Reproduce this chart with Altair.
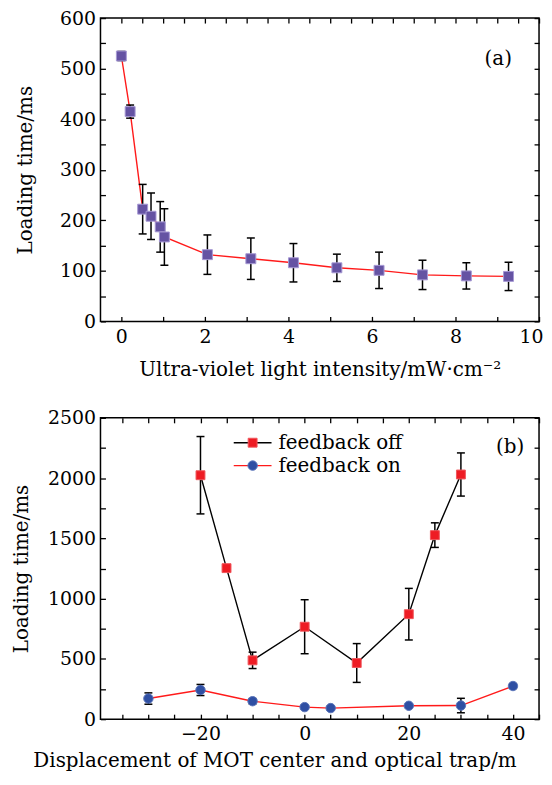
import altair as alt
import pandas as pd

# ---------------- data: panel (a) ----------------
uv_intensity = [0.0, 0.21, 0.51, 0.71, 0.93, 1.03, 2.06, 3.1, 4.12, 5.16, 6.17, 7.21, 8.26, 9.27]
uv_loading = [525, 415, 222, 208, 187, 167, 132, 124, 116, 106, 101, 92, 90, 89]
uv_error = [9, 13, 49, 46, 50, 56, 39, 41, 38, 27, 36, 29, 26, 28]

# ---------------- data: panel (b) ----------------
series_names = ["feedback off", "feedback on"]
disp_off = [-20, -15, -10, 0, 10, 20, 25, 30]
load_off = [2024, 1253, 488, 767, 466, 871, 1527, 2030]
err_off = [321, 12, 68, 224, 161, 214, 102, 179]
disp_on = [-30, -20, -10, 0, 5, 20, 30, 40]
load_on = [171, 242, 149, 100, 92, 111, 113, 275]
err_on = [47, 46, 22, 15, 15, 15, 60, 20]

# tick values
a_x_ticks = [i * 0.5 for i in range(0, 21)]
a_y_ticks = list(range(0, 601, 50))
b_x_ticks = list(range(-35, 46, 5))
b_y_ticks = list(range(0, 2501, 250))

FONT = "DejaVu Serif"
LFS = 19   # tick labels
TFS = 20   # titles / texts
TICK = 5


def make_df(x, y, e):
    return pd.DataFrame({"x": x, "y": y,
                         "lo": [a - b for a, b in zip(y, e)],
                         "hi": [a + b for a, b in zip(y, e)]})


def main_axis(orient, values, step, title, title_pad, label_pad, **kw):
    opts = dict(orient=orient, values=values, format="d",
                labelExpr=f"datum.value % {step} == 0 ? datum.label : ''",
                labelOverlap=False, domain=False, grid=False, ticks=True,
                tickSize=TICK, offset=-TICK, labelPadding=label_pad, title=title,
                titlePadding=title_pad, minExtent=0)
    opts.update(kw)
    if "labelFlush" not in opts:
        opts["labelFlush"] = False
    return alt.Axis(**opts)


def mirror_axis(orient, values):
    return alt.Axis(orient=orient, values=values, labels=False, domain=False,
                    grid=False, ticks=True, tickSize=TICK, offset=-TICK,
                    title=None, minExtent=0, maxExtent=0)


def panel(df_list, xs, ys, x_axis, y_axis, x_ticks, y_ticks, styles, extra,
          width, height):
    layers = []
    first = True
    for df, st in zip(df_list, styles):
        base = alt.Chart(df)
        if first:
            lx = alt.X("x:Q", scale=xs, axis=mirror_axis("top", x_ticks))
            ly = alt.Y("y:Q", scale=ys, axis=mirror_axis("right", y_ticks))
        else:
            lx = alt.X("x:Q", scale=xs, axis=None)
            ly = alt.Y("y:Q", scale=ys, axis=None)
        line = base.mark_line(color=st["line"], strokeWidth=1.4).encode(x=lx, y=ly)
        rule = base.mark_rule(color="black", strokeWidth=1.5).encode(
            x=alt.X("x:Q", scale=xs, axis=None),
            y=alt.Y("lo:Q", scale=ys, axis=None), y2="hi:Q")
        cap_lo = base.mark_tick(orient="horizontal", size=8, thickness=1.5,
                                color="black", opacity=1).encode(
            x=alt.X("x:Q", scale=xs, axis=None),
            y=alt.Y("lo:Q", scale=ys, axis=None))
        cap_hi = base.mark_tick(orient="horizontal", size=8, thickness=1.5,
                                color="black", opacity=1).encode(
            x=alt.X("x:Q", scale=xs, axis=None),
            y=alt.Y("hi:Q", scale=ys, axis=None))
        if first:
            px = alt.X("x:Q", scale=xs, axis=x_axis)
            py = alt.Y("y:Q", scale=ys, axis=y_axis)
        else:
            px = alt.X("x:Q", scale=xs, axis=None)
            py = alt.Y("y:Q", scale=ys, axis=None)
        pts = base.mark_point(shape=st["shape"], filled=True, size=st["size"],
                              fill=st["fill"], stroke=st["stroke"],
                              strokeWidth=1, opacity=1).encode(x=px, y=py)
        layers += [line, rule, cap_lo, cap_hi, pts]
        first = False
    return alt.layer(*layers, *extra).resolve_axis(
        x="independent", y="independent").properties(width=width, height=height)


# ---------------- panel (a) ----------------
df_a = make_df(uv_intensity, uv_loading, uv_error)
xs_a = alt.Scale(domain=[-0.5, 10], nice=False, zero=False)
ys_a = alt.Scale(domain=[0, 600], nice=False, zero=False)
tag_a = alt.Chart(pd.DataFrame({"tag": ["(a)"]})).mark_text(
    font=FONT, fontSize=TFS, color="black", align="center", baseline="middle"
).encode(text="tag:N", x=alt.value(400), y=alt.value(41))

x_axis_a = main_axis("bottom", a_x_ticks, 2, "Ultra-violet light intensity/mW·cm⁻²", 13, 6,
                     labelFlush=1, labelFlushOffset=4)
y_axis_a = main_axis("left", a_y_ticks, 100, "Loading time/ms", 24, 5)

panel_a = panel([df_a], xs_a, ys_a, x_axis_a, y_axis_a, a_x_ticks, a_y_ticks,
                [{"line": "#ff1a1a", "shape": "square", "size": 100,
                  "fill": "#6553a3", "stroke": "#a598d4"}],
                [tag_a], 441, 305)

# ---------------- panel (b) ----------------
df_off = make_df(disp_off, load_off, err_off)
df_on = make_df(disp_on, load_on, err_on)
xs_b = alt.Scale(domain=[-39.2, 45], nice=False, zero=False)
ys_b = alt.Scale(domain=[0, 2500], nice=False, zero=False)

styles_b = [
    {"line": "black", "shape": "square", "size": 80, "fill": "#ee1c24", "stroke": "#f0555a"},
    {"line": "#ff1a1a", "shape": "circle", "size": 90, "fill": "#2f4fa3", "stroke": "#5a74b8"},
]

legend_df = pd.DataFrame({"label": series_names})
legend_layers = []
row_y = [25, 48]
for i, (name, st) in enumerate(zip(series_names, styles_b)):
    src = alt.Chart(legend_df).transform_filter(alt.datum.label == name)
    legend_layers.append(src.mark_rule(color=st["line"], strokeWidth=1.4).encode(
        x=alt.value(134), x2=alt.value(172), y=alt.value(row_y[i])))
    legend_layers.append(src.mark_point(shape=st["shape"], filled=True, size=st["size"],
                                        fill=st["fill"], stroke=st["stroke"],
                                        strokeWidth=1, opacity=1).encode(
        x=alt.value(153), y=alt.value(row_y[i])))
    legend_layers.append(src.mark_text(font=FONT, fontSize=TFS, color="black",
                                       align="left", baseline="middle").encode(
        text="label:N", x=alt.value(179), y=alt.value(row_y[i])))

tag_b = alt.Chart(pd.DataFrame({"tag": ["(b)"]})).mark_text(
    font=FONT, fontSize=TFS, color="black", align="center", baseline="middle"
).encode(text="tag:N", x=alt.value(412), y=alt.value(29))

x_axis_b = main_axis("bottom", b_x_ticks, 20,
                     "Displacement of MOT center and optical trap/m", 8, 5,
                     titleX=-68, titleAnchor="start", titleAlign="left")
y_axis_b = main_axis("left", b_y_ticks, 500, "Loading time/ms", 16, 5)

panel_b = panel([df_off, df_on], xs_b, ys_b, x_axis_b, y_axis_b, b_x_ticks, b_y_ticks,
                styles_b, legend_layers + [tag_b], 441, 303)

chart = alt.vconcat(panel_a, panel_b, spacing=28).properties(
    padding={"left": 2, "top": -2, "right": 0, "bottom": 0}
).configure_view(
    stroke="black", strokeWidth=1.5
).configure_axis(
    labelFont=FONT, titleFont=FONT, labelFontSize=LFS, titleFontSize=TFS,
    labelColor="black", titleColor="black", titleFontWeight="normal",
    tickColor="black", tickWidth=1.3
)

chart.save("out.html", embed_options={"renderer": "svg", "actions": False})
